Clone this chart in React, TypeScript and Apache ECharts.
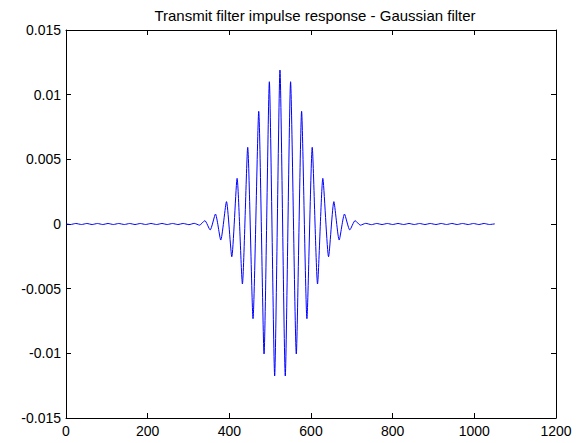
import React, { useEffect, useRef } from "react";
import * as echarts from "echarts";

const titleText = "Transmit filter impulse response - Gaussian filter";

const xTicks = { min: 0, max: 1200, interval: 200 };
const yTicks = { min: -0.015, max: 0.015, interval: 0.005 };

// Extrema of the waveform
const leftTailX = [0, 11, 24, 38, 51, 64, 77, 90, 103, 116, 129, 143, 156, 169, 182, 195, 208, 222, 235, 248, 261, 274, 287, 301, 314, 327];
const leftTailY = [0.00001, -0.00004, 0.00004, -0.00004, 0.00004, -0.00004, 0.00004, -0.00004, 0.00004, -0.00004, 0.00004, -0.00004, 0.00004, -0.00004, 0.00004, -0.00004, 0.00004, -0.00004, 0.00004, -0.00004, 0.00004, -0.00004, 0.00004, -0.00005, 0.00005, -0.00009];

const coreX = [340, 353, 366, 379, 393, 406, 419, 432, 445, 458, 472, 485, 498, 511, 524, 537, 550, 564, 577, 590, 603, 616, 629, 643, 656, 669, 682, 695, 708];
const coreY = [0.00026, -0.00046, 0.00077, -0.00124, 0.00173, -0.00253, 0.00353, -0.00464, 0.00593, -0.00732, 0.00871, -0.01005, 0.0110, -0.01175, 0.0119, -0.01175, 0.0110, -0.01005, 0.00871, -0.00732, 0.00593, -0.00464, 0.00353, -0.00253, 0.00173, -0.00124, 0.00077, -0.00046, 0.00026];

const rightTailX = [721, 734, 748, 761, 774, 787, 800, 813, 827, 840, 853, 866, 879, 892, 906, 919, 932, 945, 958, 971, 985, 998, 1011, 1024, 1037, 1050];
const rightTailY = [-0.00009, 0.00005, -0.00005, 0.00004, -0.00004, 0.00004, -0.00004, 0.00004, -0.00004, 0.00004, -0.00004, 0.00004, -0.00004, 0.00004, -0.00004, 0.00004, -0.00004, 0.00004, -0.00004, 0.00004, -0.00004, 0.00004, -0.00004, 0.00004, -0.00004, 0.00001];

const FONT = "'Liberation Sans', Arial, sans-serif";

export default function App() {
  const ref = useRef<HTMLDivElement>(null);
  useEffect(() => {
    if (!ref.current) return;
    const chart = echarts.init(ref.current, null, { renderer: "svg" });
    const xs = [...leftTailX, ...coreX, ...rightTailX];
    const ys = [...leftTailY, ...coreY, ...rightTailY];
    const data = xs.map((x, i) => [x, ys[i]]);
    const axisCommon = {
      type: "value" as const,
      axisLine: { show: true, onZero: false, lineStyle: { color: "#000", width: 1 } },
      axisTick: { show: true, inside: true, length: 5, lineStyle: { color: "#000" } },
      splitLine: { show: false },
    };
    const labelStyle = { color: "#000", fontSize: 14, fontFamily: FONT };
    const fmtNum = (v: number) => String(parseFloat(v.toFixed(6)));
    chart.setOption({
      animation: false,
      backgroundColor: "#fff",
      title: {
        text: titleText,
        left: 310,
        textAlign: "center",
        top: 3,
        textStyle: { color: "#000", fontSize: 15, fontWeight: "normal", fontFamily: FONT },
      },
      grid: { left: 66, right: 26, top: 30, bottom: 25, containLabel: false },
      xAxis: [
        { ...axisCommon, position: "bottom", ...xTicks, axisLabel: { ...labelStyle, margin: 6, formatter: fmtNum } },
        { ...axisCommon, position: "top", ...xTicks, axisLabel: { show: false } },
      ],
      yAxis: [
        { ...axisCommon, position: "left", ...yTicks, axisLabel: { ...labelStyle, margin: 5, formatter: fmtNum } },
        { ...axisCommon, position: "right", ...yTicks, axisLabel: { show: false } },
      ],
      series: [
        {
          type: "line",
          xAxisIndex: 0,
          yAxisIndex: 0,
          data,
          showSymbol: false,
          smooth: 0.2,
          lineStyle: { color: "#0000ff", width: 1 },
        },
      ],
    });
    return () => chart.dispose();
  }, []);
  return <div ref={ref} style={{ width: 582, height: 443, position: "absolute", left: 0, top: 0 }} />;
}
